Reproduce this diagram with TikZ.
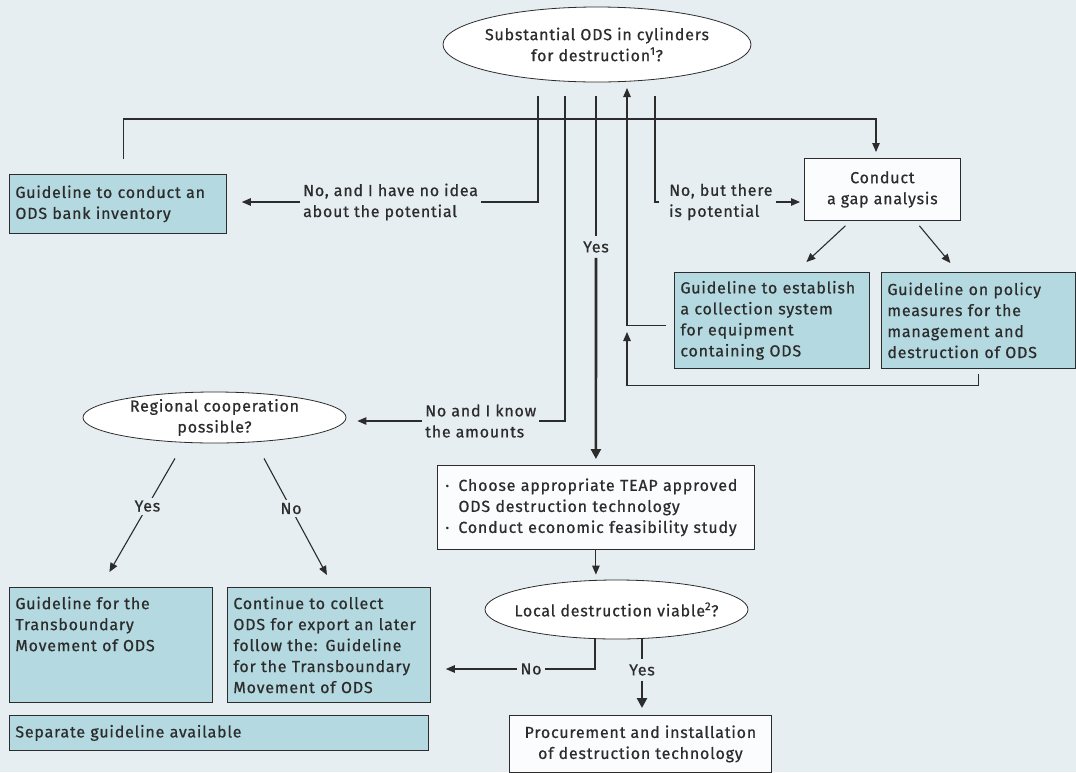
\documentclass[tikz,border=0pt]{standalone}
\usepackage{fontspec}
\setmainfont{Fira Sans}[LetterSpace=5, FakeBold=0.6]
\usetikzlibrary{shapes, arrows.meta, positioning, calc}
\definecolor{bgblue}{HTML}{E6EEF2}
\definecolor{guidefill}{HTML}{B4D9E0}
\definecolor{boxwhite}{HTML}{FAFCFD}
\definecolor{inkgray}{HTML}{2C2C2C}
\newcommand{\flowfont}{\fontsize{16}{21}\selectfont}
\tikzset{
  question/.style = {ellipse, draw=inkgray, thick, fill=white, text=inkgray, inner xsep=-13pt, inner ysep=-3pt, align=center, font=\flowfont},
  guide/.style = {rectangle, draw=inkgray, thick, fill=guidefill, text=inkgray, inner xsep=6pt, inner ysep=4pt, align=left, anchor=north west, font=\flowfont},
  task/.style = {rectangle, draw=inkgray, thick, fill=boxwhite, text=inkgray, inner xsep=8pt, inner ysep=4pt, align=left, anchor=north west, font=\flowfont},
  action/.style = {rectangle, draw=inkgray, thick, fill=boxwhite, text=inkgray, align=center, anchor=north west, font=\flowfont},
  answer/.style = {inner sep=3pt, text=inkgray, align=left, font=\flowfont},
  link/.style = {draw=inkgray, line width=1.1pt},
  linkarrow/.style = {link, -{Triangle[length=9pt, width=7.5pt]}},
  mainline/.style = {draw=inkgray, line width=2.6pt},
  mainarrow/.style = {mainline, -{Triangle[length=10pt, width=10pt]}}
}

\begin{document}
\begin{tikzpicture}[x=1pt, y=-1pt]
  % Canvas
  \fill[bgblue] (0,0) rectangle (1076,772);
  \useasboundingbox (0,0) rectangle (1076,772);

  % Top question and the taps below it
  \node (substantial) [question, minimum width=308pt, minimum height=75pt] at (597,44.5) {Substantial ODS in cylinders\\for destruction\textsuperscript{1}?};
  \coordinate (tapA) at (538,96);
  \coordinate (tapB) at (565,96);
  \coordinate (tapC) at (596,96);
  \coordinate (tapD) at (627,88);
  \coordinate (tapE) at (655,96);

  % Answers
  \node (noidea) [answer, anchor=west] at (300,202) {No, and I have no idea\\about the potential};
  \node (amounts) [answer, anchor=west] at (422,421) {No and I know\\the amounts};
  \node (potential) [answer, anchor=west] at (666,202) {No, but there\\is potential};
  \node (yesmain) [answer, inner ysep=5pt] at (596,247) {Yes};

  % Guidelines and tasks
  \node (inventory) [guide, text width=205pt, minimum height=59pt] at (9,174) {Guideline to conduct an\\ODS bank inventory};
  \node (gap) [action, minimum width=156pt, minimum height=62pt] at (804,158) {Conduct\\a gap analysis};
  \node (collection) [guide, text width=183pt, minimum height=96pt] at (674,272) {Guideline to establish\\a collection system\\for equipment\\containing ODS};
  \node (policy) [guide, text width=182pt, minimum height=96pt] at (881,272) {Guideline on policy\\measures for the\\management and\\destruction of ODS};
  \node (regional) [question, minimum width=263pt, minimum height=51pt] at (214.5,417.5) {Regional cooperation\\possible?};
  \node (teap) [task, text width=301pt, minimum height=84pt] at (437,465) {\makebox[13pt][l]{·}Choose appropriate TEAP approved\\\hspace*{13pt}ODS destruction technology\\\makebox[13pt][l]{·}Conduct economic feasibility study};
  \node (local) [question, minimum width=263pt, minimum height=59pt] at (616.5,609.5) {Local destruction viable\textsuperscript{2}?};
  \node (transboundary) [guide, text width=191pt, minimum height=115pt] at (9,587) {Guideline for the\\Transboundary\\Movement of ODS\\\mbox{}\\\mbox{}};
  \node (export) [guide, text width=191pt, minimum height=115pt] at (227,587) {Continue to collect\\ODS for export an later\\follow the: Guideline\\for the Transboundary\\Movement of ODS};
  \node (separate) [guide, text width=407pt, minimum height=35pt] at (9,715) {Separate guideline available};
  \node (procurement) [action, minimum width=262pt, minimum height=57pt] at (509,715) {Procurement and installation\\of destruction technology};
  \node (localno) [answer] at (531,669) {No};
  \node (localyes) [answer, inner ysep=5pt] at (642,670) {Yes};

  % Connectors from the top question
  \draw[link] (tapA) |- (noidea.east);
  \draw[linkarrow, shorten >=15pt] (noidea.west) -- (noidea.west -| inventory.east);
  \draw[link] (tapB) |- (amounts.east);
  \draw[linkarrow, shorten >=11pt] (amounts.west) -- (amounts.west -| regional.east);
  \draw[mainline] (tapC) -- (yesmain.north);
  \draw[mainarrow, shorten >=6pt] (yesmain.south) -- (teap.north);
  \draw[link, shorten >=7pt] (tapE) |- (potential.west);
  \draw[linkarrow, shorten >=4pt] (potential.east) -- (potential.east -| gap.west);

  % Loop from the inventory to the gap analysis
  \coordinate (loopcorner) at (876,119);
  \draw[linkarrow, shorten <=15pt, shorten >=6pt] ([xshift=5.5pt]inventory.north) |- (loopcorner) -- (loopcorner |- gap.north);

  % Gap analysis outcomes
  \draw[linkarrow] ([xshift=-37pt, yshift=-5pt]gap.south) -- ([xshift=34.5pt, yshift=10pt]collection.north);
  \draw[linkarrow] ([xshift=37pt, yshift=-5pt]gap.south) -- ([xshift=-28pt, yshift=9pt]policy.north);

  % Back to the top question
  \draw[linkarrow, shorten <=8pt] ([yshift=-5pt]collection.west) -| (tapD);
  \coordinate (returntip) at (627,332);
  \draw[linkarrow, shorten <=5pt] (policy.south) -- ++(0,17) -| (returntip);

  % Regional cooperation branches
  \draw[linkarrow] ([xshift=-39.5pt, yshift=-15pt]regional.south) -- node (regyes) [answer, fill=bgblue, pos=0.42] {Yes} ([xshift=-1.5pt, yshift=15pt]transboundary.north);
  \draw[linkarrow] ([xshift=49.5pt, yshift=-15pt]regional.south) -- node (regno) [answer, fill=bgblue, pos=0.43] {No} ([xshift=-2pt, yshift=12pt]export.north);

  % Technology choice and local destruction
  \draw[linkarrow, shorten >=5pt] (teap.south) -- (teap.south |- local.north);
  \draw[link] ([xshift=-21.5pt]local.south) |- (localno.east);
  \draw[linkarrow, shorten >=15pt] (localno.west) -- (localno.west -| export.east);
  \draw[mainline] ([xshift=25.5pt]local.south) -- (localyes.north);
  \draw[mainarrow, shorten >=7pt] (localyes.south) -- (localyes.south |- procurement.north);
\end{tikzpicture}
\end{document}
